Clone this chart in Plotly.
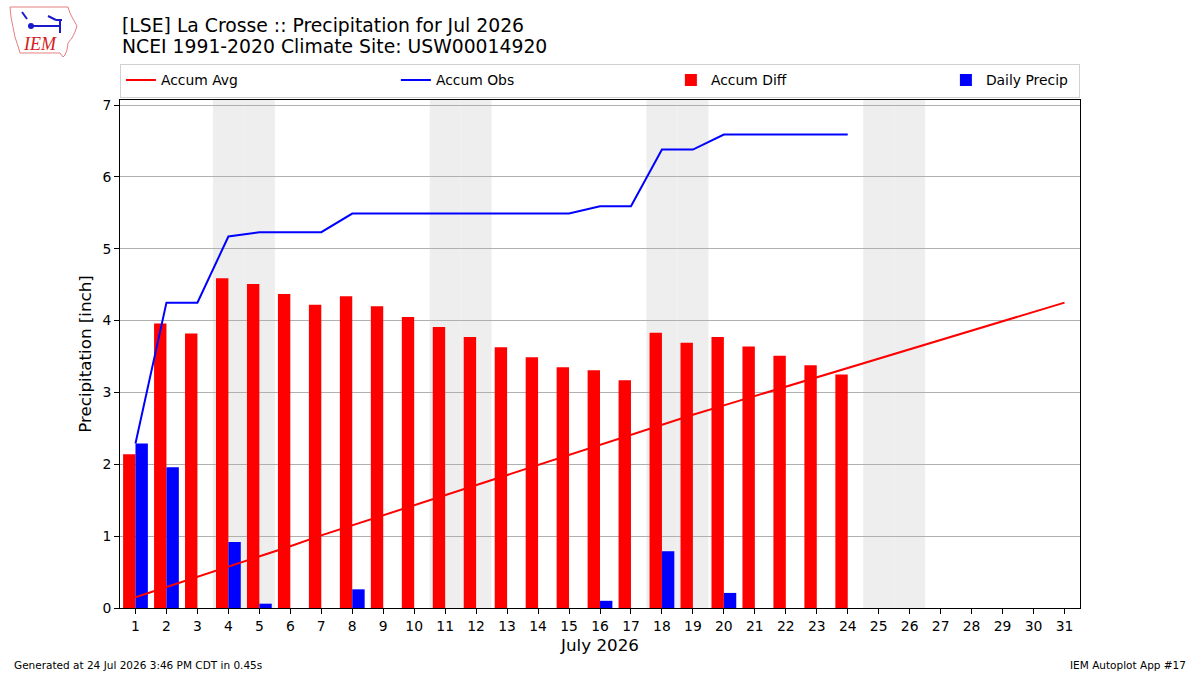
import plotly.graph_objects as go

# ---------------- data ----------------
days = list(range(1, 32))
obs_days = list(range(1, 25))
day_ticks = [str(d) for d in days]

daily_precip = [2.29, 1.96, 0.00, 0.92, 0.06, 0.00, 0.00, 0.26, 0.00, 0.00,
                0.00, 0.00, 0.00, 0.00, 0.00, 0.10, 0.00, 0.79, 0.00, 0.21,
                0.00, 0.00, 0.00, 0.00]
accum_obs = [2.29, 4.25, 4.25, 5.17, 5.23, 5.23, 5.23, 5.49, 5.49, 5.49,
             5.49, 5.49, 5.49, 5.49, 5.49, 5.59, 5.59, 6.38, 6.38, 6.59,
             6.59, 6.59, 6.59, 6.59]
accum_avg = [0.15, 0.29, 0.43, 0.58, 0.72, 0.86, 1.01, 1.15, 1.29, 1.44,
             1.58, 1.72, 1.86, 2.00, 2.14, 2.28, 2.42, 2.55, 2.69, 2.82,
             2.95, 3.08, 3.21, 3.34, 3.47, 3.60, 3.73, 3.86, 3.99, 4.12, 4.25]
accum_diff = [2.14, 3.96, 3.82, 4.59, 4.51, 4.37, 4.22, 4.34, 4.20, 4.05,
              3.91, 3.77, 3.63, 3.49, 3.35, 3.31, 3.17, 3.83, 3.69, 3.77,
              3.64, 3.51, 3.38, 3.25]
weekend_days = [4, 5, 11, 12, 18, 19, 25, 26]
y_ticks = [0, 1, 2, 3, 4, 5, 6, 7]

title1 = "[LSE] La Crosse :: Precipitation for Jul 2026"
title2 = "NCEI 1991-2020 Climate Site: USW00014920"
footer_left = "Generated at 24 Jul 2026 3:46 PM CDT in 0.45s"
footer_right = "IEM Autoplot App #17"

FONT = "DejaVu Sans"
W, H = 1200, 675
L, R, T, B = 120, 120, 100, 67
PW, PH = W - L - R, H - T - B


def pp(xp, yp):
    """pixel -> paper coordinates (for decorations outside the plot)."""
    return (xp - L) / PW, (H - B - yp) / PH


fig = go.Figure()

fig.add_trace(go.Scatter(x=days, y=accum_avg, mode="lines", name="Accum Avg",
                         line=dict(color="red", width=2)))
fig.add_trace(go.Scatter(x=obs_days, y=accum_obs, mode="lines", name="Accum Obs",
                         line=dict(color="blue", width=2)))
fig.add_trace(go.Bar(x=obs_days, y=accum_diff, name="Accum Diff",
                     marker=dict(color="red", line=dict(width=0)),
                     width=0.4, offset=-0.4))
fig.add_trace(go.Bar(x=obs_days, y=daily_precip, name="Daily Precip",
                     marker=dict(color="blue", line=dict(width=0)),
                     width=0.4, offset=0.0, legendwidth=88))

shapes = []
for d in weekend_days:
    shapes.append(dict(type="rect", xref="x", yref="paper", x0=d - 0.5, x1=d + 0.5,
                       y0=0, y1=1, fillcolor="#eeeeee", line=dict(width=0),
                       layer="below"))

# simple IEM logo (Iowa outline)
outline = [(10, 7), (68, 7), (70, 13), (73, 19), (77, 26), (75, 32), (72, 38),
           (68, 43), (67, 50), (65, 55), (63, 57), (60, 53), (20, 53), (18, 46),
           (15, 37), (13, 27), (11, 17)]
path = "M " + " L ".join("%.5f,%.5f" % pp(x, y) for x, y in outline) + " Z"
shapes.append(dict(type="path", xref="paper", yref="paper", path=path,
                   line=dict(color="#e58080", width=1), fillcolor="rgba(0,0,0,0)"))
for (xa, ya, xb, yb) in [(31, 26, 60, 26), (60, 19, 60, 33), (22, 12, 27, 19),
                         (48, 16, 56, 20), (56, 20, 62, 20)]:
    x0, y0 = pp(xa, ya)
    x1, y1 = pp(xb, yb)
    shapes.append(dict(type="line", xref="paper", yref="paper", x0=x0, y0=y0,
                       x1=x1, y1=y1, line=dict(color="#1a1acc", width=2)))
cx0, cy0 = pp(28, 23)
cx1, cy1 = pp(34, 29)
shapes.append(dict(type="circle", xref="paper", yref="paper", x0=cx0, y0=cy0,
                   x1=cx1, y1=cy1, fillcolor="#1a1acc", line=dict(width=0)))

annotations = []
ax, ay = pp(120, 25)
annotations.append(dict(text=title1, xref="paper", yref="paper", x=ax, y=ay,
                        xanchor="left", yanchor="middle", showarrow=False,
                        font=dict(family=FONT, size=18.8, color="black")))
ax, ay = pp(120, 47)
annotations.append(dict(text=title2, xref="paper", yref="paper", x=ax, y=ay,
                        xanchor="left", yanchor="middle", showarrow=False,
                        font=dict(family=FONT, size=18.8, color="black")))
ax, ay = pp(12, 665)
annotations.append(dict(text=footer_left, xref="paper", yref="paper", x=ax, y=ay,
                        xanchor="left", yanchor="middle", showarrow=False,
                        font=dict(family=FONT, size=10.5, color="black")))
ax, ay = pp(1188, 665)
annotations.append(dict(text=footer_right, xref="paper", yref="paper", x=ax, y=ay,
                        xanchor="right", yanchor="middle", showarrow=False,
                        font=dict(family=FONT, size=10.5, color="black")))
ax, ay = pp(40, 44)
annotations.append(dict(text="<i>IEM</i>", xref="paper", yref="paper", x=ax, y=ay,
                        xanchor="center", yanchor="middle", showarrow=False,
                        font=dict(family="Liberation Serif", size=18, color="#d42020")))

fig.update_layout(
    width=W, height=H,
    margin=dict(l=L, r=R, t=T, b=B, pad=0),
    paper_bgcolor="white", plot_bgcolor="white",
    font=dict(family=FONT, size=13.9, color="black"),
    barmode="overlay",
    showlegend=True,
    legend=dict(orientation="h", x=-0.0001, xanchor="left", y=pp(0, 97.5)[1], yanchor="bottom",
                entrywidth=230, entrywidthmode="pixels", itemwidth=30,
                bgcolor="white", bordercolor="#d0d0d0", borderwidth=1,
                font=dict(family=FONT, size=13.9), traceorder="normal"),
    shapes=shapes,
    annotations=annotations,
    xaxis=dict(range=[0.5, 31.5], tickmode="array", tickvals=days, ticktext=day_ticks,
               ticks="outside", ticklen=5, tickwidth=1, tickcolor="black",
               showline=True, linecolor="black", linewidth=1, mirror=True,
               showgrid=False, zeroline=False,
               title=dict(text="July 2026", font=dict(family=FONT, size=16.7), standoff=6),
               tickfont=dict(family=FONT, size=13.9)),
    yaxis=dict(range=[0, 7.07], tickmode="array", tickvals=y_ticks,
               ticks="outside", ticklen=5, tickwidth=1, tickcolor="black",
               showline=True, linecolor="black", linewidth=1, mirror=True,
               showgrid=True, gridcolor="#b0b0b0", gridwidth=1, zeroline=False,
               title=dict(text="Precipitation [inch]", font=dict(family=FONT, size=16.7),
                          standoff=6),
               tickfont=dict(family=FONT, size=13.9)),
)

fig.write_html("out.html")
